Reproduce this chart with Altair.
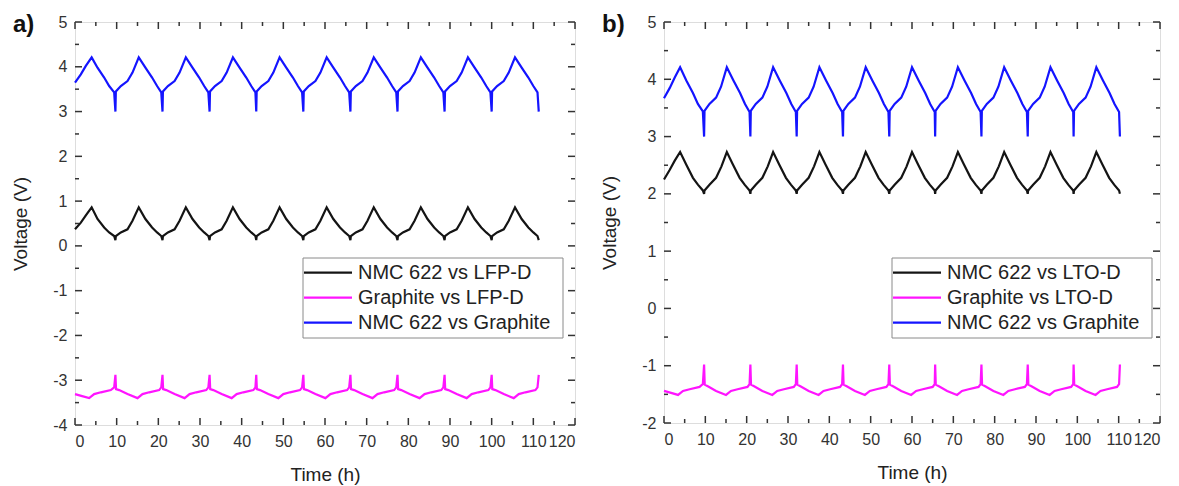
import altair as alt
import pandas as pd

# ---------------- data ----------------
series_keys = ["black", "magenta", "blue"]
series_colors = ["#141414", "#ff14ff", "#1414ff"]

legend_a = ["NMC 622 vs LFP-D", "Graphite vs LFP-D", "NMC 622 vs Graphite"]
legend_b = ["NMC 622 vs LTO-D", "Graphite vs LTO-D", "NMC 622 vs Graphite"]

x_major = [0, 10, 20, 30, 40, 50, 60, 70, 80, 90, 100, 110, 120]
x_minor = [5, 15, 25, 35, 45, 55, 65, 75, 85, 95, 105, 115]
ya_major = [-4, -3, -2, -1, 0, 1, 2, 3, 4, 5]
ya_minor = [-3.5, -2.5, -1.5, -0.5, 0.5, 1.5, 2.5, 3.5, 4.5]
yb_major = [-2, -1, 0, 1, 2, 3, 4, 5]
yb_minor = [-1.5, -0.5, 0.5, 1.5, 2.5, 3.5, 4.5]

# times (h) of the cut-off spikes
valleys_a = [9.7, 21.0, 32.3, 43.5, 54.8, 66.1, 77.4, 88.7, 100.0, 111.3]
valleys_b = [9.7, 20.9, 32.1, 43.3, 54.5, 65.6, 76.8, 88.0, 99.1, 110.3]

# ---- panel a ----
a_black_head_t = [0, 1.4, 2.6, 4.0, 5.4, 7.0, 8.2, 9.4]
a_black_head_v = [0.37, 0.52, 0.68, 0.86, 0.60, 0.41, 0.30, 0.22]
a_black_spike = 0.13
a_black_cyc_dt = [0.1, 1.3, 2.9, 4.1, 5.6, 7.2, 8.8, 10.0, 11.0]
a_black_cyc_v = [0.22, 0.30, 0.37, 0.56, 0.86, 0.60, 0.41, 0.30, 0.22]

a_mag_head_t = [0, 1.5, 3.4, 4.6, 6.2, 8.6, 9.4]
a_mag_head_v = [-3.31, -3.35, -3.40, -3.31, -3.27, -3.22, -3.16]
a_mag_spike = -2.88
a_mag_cyc_dt = [0.15, 0.9, 2.9, 5.3, 6.5, 8.1, 10.5, 11.0]
a_mag_cyc_v = [-3.20, -3.22, -3.31, -3.40, -3.31, -3.27, -3.22, -3.16]

a_blue_head_t = [0, 1.4, 2.6, 4.0, 5.4, 7.0, 8.2, 9.4]
a_blue_head_v = [3.645, 3.83, 4.02, 4.21, 3.98, 3.76, 3.57, 3.43]
a_blue_spike = 3.0
a_blue_cyc_dt = [0.1, 1.3, 2.9, 4.1, 5.6, 7.2, 8.8, 10.0, 11.0]
a_blue_cyc_v = [3.45, 3.57, 3.68, 3.87, 4.21, 3.98, 3.76, 3.57, 3.43]

# ---- panel b ----
b_black_head_t = [0, 1.4, 2.6, 3.9, 5.4, 7.0, 8.2, 9.4]
b_black_head_v = [2.25, 2.42, 2.58, 2.73, 2.51, 2.28, 2.16, 2.06]
b_black_spike = 2.0
b_black_cyc_dt = [0.1, 1.3, 2.9, 4.2, 5.5, 7.0, 8.6, 9.8, 11.0]
b_black_cyc_v = [2.06, 2.16, 2.28, 2.48, 2.73, 2.51, 2.28, 2.16, 2.06]

b_mag_head_t = [0, 1.5, 3.4, 4.6, 6.2, 8.6, 9.4]
b_mag_head_v = [-1.44, -1.47, -1.51, -1.44, -1.41, -1.37, -1.32]
b_mag_spike = -0.98
b_mag_cyc_dt = [0.15, 0.9, 2.9, 5.3, 6.5, 8.1, 10.5, 11.0]
b_mag_cyc_v = [-1.33, -1.36, -1.44, -1.51, -1.44, -1.41, -1.37, -1.32]

b_blue_head_t = [0, 1.4, 2.6, 3.9, 5.4, 7.0, 8.2, 9.4]
b_blue_head_v = [3.67, 3.85, 4.03, 4.21, 3.98, 3.76, 3.57, 3.44]
b_blue_spike = 3.0
b_blue_cyc_dt = [0.1, 1.3, 2.9, 4.1, 5.5, 7.1, 8.7, 9.9, 11.0]
b_blue_cyc_v = [3.45, 3.57, 3.68, 3.87, 4.21, 3.98, 3.76, 3.57, 3.43]


def build(key, head_t, head_v, spike, cyc_dt, cyc_v, valleys):
    pts = list(zip(head_t, head_v))
    for k, tv in enumerate(valleys):
        pts.append((tv, spike))
        if k < len(valleys) - 1:
            pts += [(tv + d, v) for d, v in zip(cyc_dt, cyc_v)]
    return pd.DataFrame({"t": [p[0] for p in pts], "v": [p[1] for p in pts],
                         "series": key, "i": range(len(pts))})


df_a = pd.concat([
    build("black", a_black_head_t, a_black_head_v, a_black_spike, a_black_cyc_dt, a_black_cyc_v, valleys_a),
    build("magenta", a_mag_head_t, a_mag_head_v, a_mag_spike, a_mag_cyc_dt, a_mag_cyc_v, valleys_a),
    build("blue", a_blue_head_t, a_blue_head_v, a_blue_spike, a_blue_cyc_dt, a_blue_cyc_v, valleys_a),
])
df_b = pd.concat([
    build("black", b_black_head_t, b_black_head_v, b_black_spike, b_black_cyc_dt, b_black_cyc_v, valleys_b),
    build("magenta", b_mag_head_t, b_mag_head_v, b_mag_spike, b_mag_cyc_dt, b_mag_cyc_v, valleys_b),
    build("blue", b_blue_head_t, b_blue_head_v, b_blue_spike, b_blue_cyc_dt, b_blue_cyc_v, valleys_b),
])

FONT = "Liberation Sans"
AXC = "#333333"
one = pd.DataFrame({"a": [0]})


def panel(df, ydom, ymaj, ymin, W, H, tag, labels, anchor):
    xs = alt.Scale(domain=[0, 120], nice=False, zero=False)
    ys = alt.Scale(domain=ydom, nice=False, zero=False)
    common = dict(ticks=False, domain=False, grid=False,
                  labelFontSize=16, labelColor="#333333", labelFont=FONT,
                  titleFontSize=19, titleFontWeight="normal", titleColor="#222222",
                  titleFont=FONT, labelExpr="datum.value + ''")
    x_axis = alt.Axis(values=x_major, title="Time (h)", labelPadding=8, titlePadding=16, **common)
    y_axis = alt.Axis(values=ymaj, title="Voltage (V)", labelPadding=8, titlePadding=22, **common)
    lines = alt.Chart(df).mark_line(strokeWidth=2.2).encode(
        x=alt.X("t:Q", scale=xs, axis=x_axis),
        y=alt.Y("v:Q", scale=ys, axis=y_axis),
        color=alt.Color("series:N", scale=alt.Scale(domain=series_keys, range=series_colors),
                        legend=None),
        order=alt.Order("i:Q"),
    )
    layers = [lines]
    xmaj_df = pd.DataFrame({"t": x_major})
    xmin_df = pd.DataFrame({"t": x_minor})
    ymaj_df = pd.DataFrame({"v": ymaj})
    ymin_df = pd.DataFrame({"v": ymin})
    for d, ln in ((xmaj_df, 7), (xmin_df, 4)):
        for y0, y1 in ((0, ln), (H, H - ln)):
            layers.append(alt.Chart(d).mark_rule(color=AXC, strokeWidth=1.5).encode(
                x=alt.X("t:Q", scale=xs, axis=x_axis), y=alt.value(y0), y2=alt.value(y1)))
    for d, ln in ((ymaj_df, 7), (ymin_df, 4)):
        for x0, x1 in ((0, ln), (W, W - ln)):
            layers.append(alt.Chart(d).mark_rule(color=AXC, strokeWidth=1.5).encode(
                y=alt.Y("v:Q", scale=ys, axis=y_axis), x=alt.value(x0), x2=alt.value(x1)))
    # panel tag
    layers.append(alt.Chart(one).mark_text(text=tag, align="left", baseline="alphabetic",
                                           fontSize=24, fontWeight="bold", font=FONT,
                                           color="#111111").encode(
        x=alt.value(-62), y=alt.value(10)))
    # invisible anchor fixing the outer margin of the figure
    if anchor:
        layers.append(alt.Chart(one).mark_rule(strokeOpacity=0, strokeWidth=0.01).encode(
            x=alt.value(-74), x2=alt.value(-74), y=alt.value(-21), y2=alt.value(-20)))
    # legend box
    layers.append(alt.Chart(one).mark_rect(fill="white", stroke="#8a8a8a", strokeWidth=1).encode(
        x=alt.value(228), x2=alt.value(488), y=alt.value(236), y2=alt.value(316)))
    for i, (c, lab) in enumerate(zip(series_colors, labels)):
        yy = 250.7 + 25 * i
        layers.append(alt.Chart(one).mark_rule(color=c, strokeWidth=2.2).encode(
            x=alt.value(229), x2=alt.value(277), y=alt.value(yy)))
        layers.append(alt.Chart(one).mark_text(text=lab, align="left", baseline="middle",
                                               fontSize=20, font=FONT, color="#222222").encode(
            x=alt.value(283), y=alt.value(yy)))
    return alt.layer(*layers).properties(width=W, height=H)


pa = panel(df_a, [-4, 5], ya_major, ya_minor, 500, 403, "a)", legend_a, True)
pb = panel(df_b, [-2, 5], yb_major, yb_minor, 496, 401, "b)", legend_b, False)

chart = alt.hconcat(pa, pb, spacing=89, bounds="flush").properties(
    padding={"left": 0, "top": 0, "right": 5, "bottom": 5},
    background="white",
).configure_view(stroke=AXC, strokeWidth=1.5).configure(font=FONT)

chart.save("out.html", embed_options={"renderer": "svg", "actions": False})
